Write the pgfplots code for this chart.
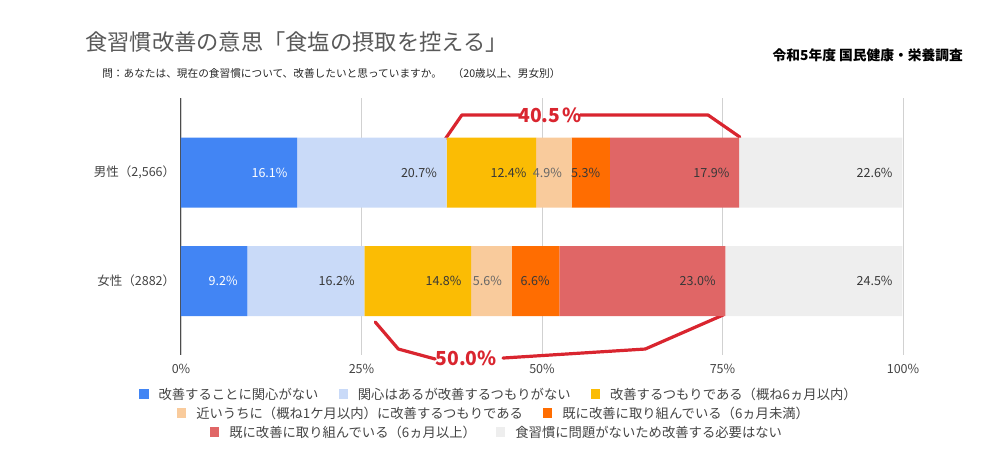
\documentclass[border=0pt]{standalone}
\usepackage{pgfplots}
\usepackage{pgfplotstable}
\pgfplotsset{compat=1.18}
\usepackage{fontspec}
\setmainfont{Noto Sans CJK JP}

\definecolor{c1}{HTML}{4285F4}
\definecolor{c2}{HTML}{C9DAF8}
\definecolor{c3}{HTML}{FBBC04}
\definecolor{c4}{HTML}{F9CB9C}
\definecolor{c5}{HTML}{FF6D01}
\definecolor{c6}{HTML}{E06666}
\definecolor{c7}{HTML}{EEEEEE}
\definecolor{annot}{HTML}{D9252F}
\definecolor{txt}{HTML}{444444}

% g: 1 = 男性, 0 = 女性
\pgfplotstableread{
g  m1    m2    m3    m4   m5   m6    m7
1  16.1  20.7  12.4  4.9  5.3  17.9  22.6
0  9.2   16.2  14.8  5.6  6.6  23.0  24.5
}\ans

\tikzset{redline/.style={draw=annot, line width=2.4pt, line cap=round, line join=round},
         redtext/.style={text=annot, font=\fontsize{14.5pt}{16pt}\selectfont\bfseries}}

% legend entry: coloured square + text
\newcommand{\legitem}[2]{\raisebox{0.4pt}{\textcolor{#1}{\rule{7pt}{7pt}}}\hspace{7.5pt}#2}

% label sits at the middle of its segment: move it to the segment's right end
\pgfplotsset{seg/.style={
    table/x=#1, table/y=g, table/meta=#1,
    visualization depends on={\thisrow{#1} \as \segv},
    every node near coord/.append style={xshift={\segv*2.7075pt-3.8pt}}}}

\begin{document}
\begin{tikzpicture}
% canvas in pixel units, origin top left
\begin{scope}[x=0.75pt,y=-0.75pt,yshift=339pt]
  \path[use as bounding box] (0,0) rectangle (1000,452);
\end{scope}

\begin{axis}[
    at={(135.75pt,72.75pt)}, anchor=south west,
    scale only axis, width=541.5pt, height=192.75pt,
    xbar stacked, bar width=52.5pt,
    xmin=0, xmax=100, ymin=-0.682, ymax=1.687,
    ytick={0,1}, yticklabels={{女性（2882）},{男性（2,566）}},
    xtick={0,25,50,75,100},
    xticklabel={\pgfmathprintnumber{\tick}\%},
    xmajorgrids, major grid style={color=black!18, line width=0.6pt},
    major tick length=0, axis line style={draw=none},
    tick label style={font=\fontsize{9.4pt}{11pt}\selectfont, text=txt},
    xticklabel style={yshift=-3pt},
    yticklabel style={xshift=-0.8pt},
    /pgf/number format/assume math mode=true,
    point meta=explicit,
    nodes near coords={\pgfmathprintnumber[fixed,fixed zerofill,precision=1]{\pgfplotspointmeta}\%},
    nodes near coords style={anchor=east,
        font=\fontsize{9.4pt}{11pt}\selectfont, text=black!78},
    every axis plot/.append style={draw=none},
    clip=false,
]
\addplot[fill=c1, seg=m1, every node near coord/.append style={text=white}] table {\ans};
\addplot[fill=c2, seg=m2] table {\ans};
\addplot[fill=c3, seg=m3] table {\ans};
\addplot[fill=c4, seg=m4, every node near coord/.append style={text=black!60}] table {\ans};
\addplot[fill=c5, seg=m5] table {\ans};
\addplot[fill=c6, seg=m6] table {\ans};
\addplot[fill=c7, seg=m7] table {\ans};

\draw[black!70, line width=0.75pt] (rel axis cs:0,0) -- (rel axis cs:0,1);

% red brackets
\draw[redline] (axis cs:36.6,1.309) -- (axis cs:38.9,1.53) -- (axis cs:46.9,1.53);
\draw[redline] (axis cs:55.3,1.53) -- (axis cs:73.0,1.53) -- (axis cs:77.4,1.327);
\draw[redline] (axis cs:26.9,-0.378) -- (axis cs:30.1,-0.627) -- (axis cs:35.2,-0.719);
\draw[redline] (axis cs:44.6,-0.71) -- (axis cs:64.3,-0.627) -- (axis cs:75.1,-0.313);
\node[redtext] at (axis cs:51.1,1.53) {40.5\hspace{1.5pt}\%};
\node[redtext] at (axis cs:39.5,-0.71) {50.0\%};
\end{axis}

\begin{scope}[x=0.75pt,y=-0.75pt,yshift=339pt]
  \node[anchor=west, inner sep=0, text=black!65,
        font=\fontsize{16.7pt}{19pt}\selectfont] at (85,42.5)
        {食習慣改善の意思「食塩の摂取を控える」};
  \node[anchor=west, inner sep=0, text=black!85,
        font=\fontsize{8pt}{9pt}\selectfont] at (102,73)
        {問：あなたは、現在の食習慣について、改善したいと思っていますか。　（20歳以上、男女別）};
  \node[anchor=east, inner sep=0, text=black,
        font=\fontsize{10.3pt}{12pt}\selectfont\bfseries] at (963,55)
        {令和5年度 国民健康・栄養調査};

  \begin{scope}[every node/.style={inner sep=0, text=txt,
        font=\fontsize{10pt}{12pt}\selectfont}]
  \node at (498,394) {\legitem{c1}{改善することに関心がない}\hspace{15pt}\legitem{c2}{関心はあるが改善するつもりがない}\hspace{15pt}\legitem{c3}{改善するつもりである（概ね6ヵ月以内）}};
  \node at (493,413) {\legitem{c4}{近いうちに（概ね1ケ月以内）に改善するつもりである}\hspace{15pt}\legitem{c5}{既に改善に取り組んでいる（6ヵ月未満）}};
  \node at (496,432) {\legitem{c6}{既に改善に取り組んでいる（6ヵ月以上）}\hspace{15pt}\legitem{c7}{食習慣に問題がないため改善する必要はない}};
  \end{scope}
\end{scope}
\end{tikzpicture}
\end{document}
